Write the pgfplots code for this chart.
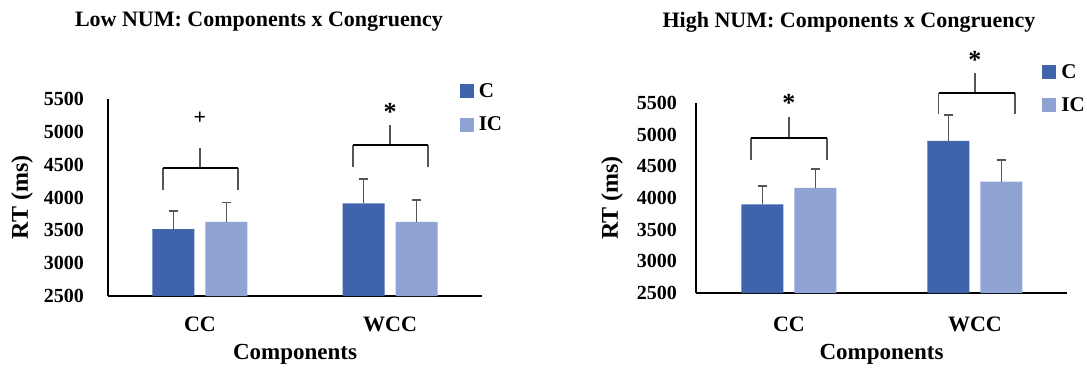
\documentclass[border=0pt]{standalone}
\usepackage{fontspec}
\setmainfont{Liberation Serif}
\usepackage{pgfplots}
\pgfplotsset{compat=1.18}
\definecolor{cdark}{HTML}{3F64AC}
\definecolor{clight}{HTML}{8FA4D4}
\definecolor{errgray}{HTML}{555555}
\pgfplotsset{
  myax/.style={
    ybar, scale only axis, clip=false,
    axis lines=left, axis line style={-, black, line width=1.3pt},
    ymin=2500, ymax=5500, ytick={2500,3000,...,5500},
    xtick={0,1}, xticklabels={CC,WCC},
    major tick length=0pt,
    /pgf/number format/assume math mode=true,
    /pgf/number format/1000 sep={},
    yticklabel style={font=\bfseries\fontsize{20}{24}\selectfont, anchor=east, inner sep=0pt},
    xticklabel style={font=\bfseries\fontsize{22}{26}\selectfont, anchor=base, inner sep=0pt},
    bar width=42pt,
    error bars/y dir=plus, error bars/y explicit,
    error bars/error bar style={line width=1.3pt, color=errgray},
    error bars/error mark options={rotate=90, mark size=4.5pt, line width=1.3pt, color=errgray},
    xlabel={Components}, ylabel={RT (ms)},
    xlabel style={font=\bfseries\fontsize{23}{27}\selectfont, anchor=center},
    ylabel style={font=\bfseries\fontsize{24}{28}\selectfont, anchor=center, rotate=0},
    legend image code/.code={\fill[##1] (0pt,-7pt) rectangle (14pt,7pt);},
    legend style={draw=none, fill=none, inner sep=0pt, row sep=14pt,
      font=\bfseries\fontsize{21}{24}\selectfont, anchor=north west,
      /tikz/every odd column/.append style={column sep=3pt}},
    legend cell align=left,
  },
}
\begin{document}
\begin{tikzpicture}
\path[use as bounding box] (0pt,0pt) rectangle (1087pt,-371pt);
\node[font=\bfseries\fontsize{22}{26}\selectfont] at (259pt,-22pt) {Low NUM: Components x Congruency};
\node[font=\bfseries\fontsize{22}{26}\selectfont] at (849pt,-22pt) {High NUM: Components x Congruency};

% Left chart
\begin{axis}[myax,
  at={(108pt,-296pt)}, anchor=south west,
  width=374pt, height=197pt,
  xmin=-0.484, xmax=1.484,
  yticklabel style={xshift=-24pt},
  xticklabel style={yshift=-35pt},
  xlabel style={at={(axis description cs:0.5,-0.294)}},
  ylabel style={at={(axis description cs:-0.230,0.5)}},
  legend style={at={(axis description cs:0.94,1.09)}},
]
\addplot[fill=cdark, draw=none, bar shift=-26.5pt] table[x=x, y=y, y error=e] {
x y e
0 3520 275
1 3910 370
};
\addplot[fill=clight, draw=none, bar shift=26.5pt] table[x=x, y=y, y error=e] {
x y e
0 3630 290
1 3630 330
};
\legend{C,IC}
% brackets
\draw[errgray, line width=1.3pt] (axis cs:-0.195,4113) -- (axis cs:-0.195,4448);
\draw[errgray, line width=1.3pt] (axis cs:0.2,4113) -- (axis cs:0.2,4448);
\draw[errgray, line width=1.3pt] (axis cs:0,4448) -- (axis cs:0,4753);
\draw[black, line width=2pt] (axis cs:-0.195,4448) -- (axis cs:0.2,4448);
\node[font=\bfseries\fontsize{22}{26}\selectfont] at (axis cs:0,5209) {+};
\draw[errgray, line width=1.3pt] (axis cs:0.805,4463) -- (axis cs:0.805,4798);
\draw[errgray, line width=1.3pt] (axis cs:1.2,4463) -- (axis cs:1.2,4798);
\draw[errgray, line width=1.3pt] (axis cs:1,4798) -- (axis cs:1,5103);
\draw[black, line width=2pt] (axis cs:0.805,4798) -- (axis cs:1.2,4798);
\node[font=\bfseries\fontsize{26}{30}\selectfont] at (axis cs:1,5300) {*};
\end{axis}

% Right chart
\begin{axis}[myax,
  at={(696pt,-293pt)}, anchor=south west,
  width=371pt, height=190pt,
  xmin=-0.5, xmax=1.495,
  yticklabel style={xshift=-19pt},
  xticklabel style={yshift=-38pt},
  xlabel style={at={(axis description cs:0.5,-0.321)}},
  ylabel style={at={(axis description cs:-0.226,0.5)}},
  legend style={at={(axis description cs:0.933,1.215)}},
]
\addplot[fill=cdark, draw=none, bar shift=-26.5pt] table[x=x, y=y, y error=e] {
x y e
0 3900 290
1 4900 410
};
\addplot[fill=clight, draw=none, bar shift=26.5pt] table[x=x, y=y, y error=e] {
x y e
0 4160 300
1 4260 340
};
\legend{C,IC}
\draw[errgray, line width=1.3pt] (axis cs:-0.204,4601) -- (axis cs:-0.204,4949);
\draw[errgray, line width=1.3pt] (axis cs:0.204,4601) -- (axis cs:0.204,4949);
\draw[errgray, line width=1.3pt] (axis cs:0,4949) -- (axis cs:0,5280);
\draw[black, line width=2pt] (axis cs:-0.204,4949) -- (axis cs:0.204,4949);
\node[font=\bfseries\fontsize{26}{30}\selectfont] at (axis cs:0,5500) {*};
\draw[errgray, line width=1.3pt] (axis cs:0.805,5328) -- (axis cs:0.805,5660);
\draw[errgray, line width=1.3pt] (axis cs:1.215,5328) -- (axis cs:1.215,5660);
\draw[errgray, line width=1.3pt] (axis cs:1,5660) -- (axis cs:1,5976);
\draw[black, line width=2pt] (axis cs:0.805,5660) -- (axis cs:1.215,5660);
\node[font=\bfseries\fontsize{26}{30}\selectfont] at (axis cs:1,6175) {*};
\end{axis}
\end{tikzpicture}
\end{document}
